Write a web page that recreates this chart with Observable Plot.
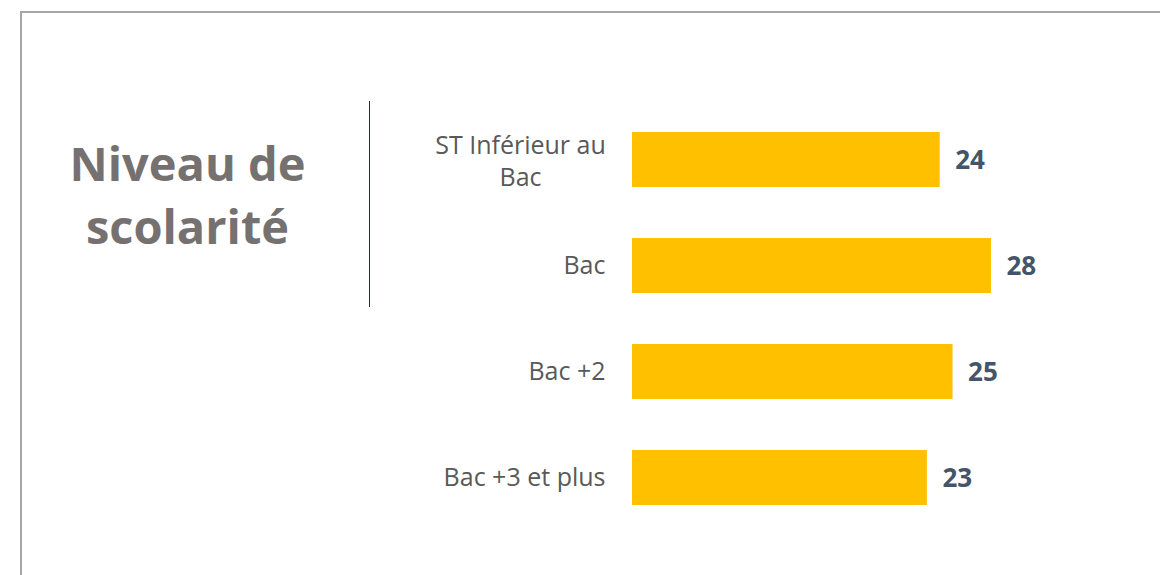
<!DOCTYPE html>
<html>
<head>
<meta charset="utf-8">
<script src="https://cdn.jsdelivr.net/npm/d3@7"></script>
<script src="https://cdn.jsdelivr.net/npm/@observablehq/plot@0.6"></script>
<style>
  html, body { margin: 0; padding: 0; background: #ffffff; }
  #wrap { position: relative; width: 1160px; height: 575px; overflow: hidden; background: #fff; }
  #frame { position: absolute; left: 20px; top: 11px; width: 1200px; height: 600px;
           border-top: 2px solid #A6A6A6; border-left: 2px solid #A6A6A6; box-sizing: border-box; }
  #title { position: absolute; left: 0; width: 375px; top: 132px; text-align: center;
           font-family: "Open Sans", sans-serif; font-weight: 700; font-size: 47px; line-height: 63px;
           color: #767171; }
  #vline { position: absolute; left: 369px; top: 101px; width: 1px; height: 206px; background: #262b33; }
  #chart { position: absolute; left: 0; top: 0; }
</style>
</head>
<body>
<div id="wrap">
  <div id="frame"></div>
  <div id="title">Niveau de<br>scolarité</div>
  <div id="vline"></div>
  <div id="chart"></div>
</div>
<script>
const categories = ["ST Inférieur au\nBac", "Bac", "Bac +2", "Bac +3 et plus"];
const values = [24, 28, 25, 23];

const data = categories.map((c, i) => ({category: c, value: values[i]}));
const single = data.filter(d => !d.category.includes("\n"));
const multi = data.filter(d => d.category.includes("\n"));

const chart = Plot.plot({
  width: 1160,
  height: 575,
  margin: 0,
  style: {background: "transparent", fontFamily: "'Open Sans', sans-serif"},
  x: {domain: [0, 28], range: [632, 991], axis: null},
  y: {domain: categories, range: [106.5, 530.5], padding: 0.48, paddingOuter: 0.24, axis: null},
  marks: [
    Plot.barX(data, {x: "value", y: "category", fill: "#FFC000"}),
    Plot.text(data, {x: "value", y: "category", text: d => String(d.value), textAnchor: "start", dx: 15, dy: 1,
      fontSize: 26, fontWeight: 700, fill: "#44546A"}),
    Plot.text(single, {x: 0, y: "category", text: "category", textAnchor: "end", dx: -27,
      fontSize: 25, fill: "#595959"}),
    Plot.text(multi, {x: 0, y: "category", text: "category", textAnchor: "middle", dx: -112,
      lineHeight: 1.28, fontSize: 25, fill: "#595959"})
  ]
});
document.getElementById("chart").appendChild(chart);
</script>
</body>
</html>
